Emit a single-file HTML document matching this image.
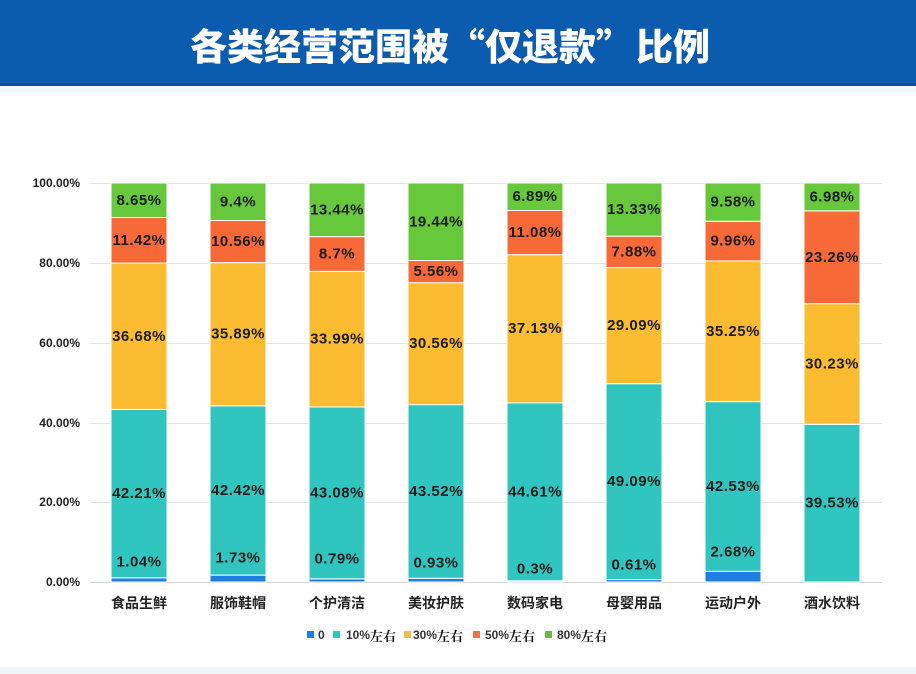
<!DOCTYPE html>
<html><head><meta charset="utf-8">
<style>
html,body{margin:0;padding:0;background:#fff;}
body{width:916px;height:674px;overflow:hidden;position:relative;font-family:"Liberation Sans","Noto Sans CJK SC",sans-serif;}
.bar{position:absolute;left:0;top:0;width:916px;height:83px;background:#0b5caf;border-bottom:3px solid #0a4f9c;}
.t{position:absolute;top:0;height:83px;line-height:88px;color:#fff;font-family:"Noto Sans CJK SC",sans-serif;font-weight:900;font-size:37px;white-space:nowrap;}
.strip{position:absolute;left:0;top:86px;width:916px;height:6px;background:#f0f6fa;}
.foot{position:absolute;left:0;top:667px;width:916px;height:7px;background:#eef6f7;}
svg{position:absolute;left:0;top:0;}
.dl{font-family:"Liberation Sans",sans-serif;font-weight:bold;font-size:15px;fill:#1c1c1c;letter-spacing:0.5px;text-anchor:middle;dominant-baseline:central;}
.yl{font-family:"Liberation Sans",sans-serif;font-weight:bold;font-size:12px;fill:#222;text-anchor:end;dominant-baseline:central;}
.cl{font-family:"Liberation Sans","Noto Sans CJK SC",sans-serif;font-weight:bold;font-size:14px;fill:#222;text-anchor:middle;dominant-baseline:central;}
.lg{font-family:"Liberation Sans",sans-serif;font-size:12px;font-weight:bold;fill:#333;dominant-baseline:central;}
.lgc{font-family:"Noto Serif CJK SC",serif;font-weight:bold;font-size:13px;fill:#111;}
</style></head>
<body>
<div class="bar"></div>
<div class="t" style="left:190px">各类经营范围被</div>
<div class="t" style="left:448px">“仅退款”</div>
<div class="t" style="left:636px">比例</div>
<div class="strip"></div>
<div class="foot"></div>
<svg width="916" height="674" viewBox="0 0 916 674">
<g stroke="#e3e3e3" stroke-width="1">
<line x1="90" y1="183.5" x2="882" y2="183.5"/>
<line x1="90" y1="263.5" x2="882" y2="263.5"/>
<line x1="90" y1="343.5" x2="882" y2="343.5"/>
<line x1="90" y1="423.5" x2="882" y2="423.5"/>
<line x1="90" y1="502.5" x2="882" y2="502.5"/>
<line x1="90" y1="582.5" x2="882" y2="582.5" stroke="#d4d4d4"/>
</g>
<text class="yl" x="80" y="183">100.00%</text>
<text class="yl" x="80" y="263">80.00%</text>
<text class="yl" x="80" y="343">60.00%</text>
<text class="yl" x="80" y="423">40.00%</text>
<text class="yl" x="80" y="502">20.00%</text>
<text class="yl" x="80" y="582">0.00%</text>

<g stroke="#fff" stroke-width="1">
<!-- Bar1 -->
<rect x="111" y="577.85" width="56" height="4.15" fill="#1d7fe2"/>
<rect x="111" y="409.43" width="56" height="168.42" fill="#30c5bf"/>
<rect x="111" y="263.08" width="56" height="146.35" fill="#fbbc31"/>
<rect x="111" y="217.51" width="56" height="45.57" fill="#f76a38"/>
<rect x="111" y="183" width="56" height="34.51" fill="#67c83b"/>
<!-- Bar2 -->
<rect x="210" y="575.10" width="56" height="6.9" fill="#1d7fe2"/>
<rect x="210" y="405.84" width="56" height="169.26" fill="#30c5bf"/>
<rect x="210" y="262.64" width="56" height="143.2" fill="#fbbc31"/>
<rect x="210" y="220.51" width="56" height="42.13" fill="#f76a38"/>
<rect x="210" y="183" width="56" height="37.51" fill="#67c83b"/>
<!-- Bar3 -->
<rect x="309" y="578.85" width="56" height="3.15" fill="#1d7fe2"/>
<rect x="309" y="406.96" width="56" height="171.89" fill="#30c5bf"/>
<rect x="309" y="271.34" width="56" height="135.62" fill="#fbbc31"/>
<rect x="309" y="236.62" width="56" height="34.72" fill="#f76a38"/>
<rect x="309" y="183" width="56" height="53.62" fill="#67c83b"/>
<!-- Bar4 -->
<rect x="408" y="578.29" width="56" height="3.71" fill="#1d7fe2"/>
<rect x="408" y="404.64" width="56" height="173.65" fill="#30c5bf"/>
<rect x="408" y="282.71" width="56" height="121.93" fill="#fbbc31"/>
<rect x="408" y="260.53" width="56" height="22.18" fill="#f76a38"/>
<rect x="408" y="183" width="56" height="77.53" fill="#67c83b"/>
<!-- Bar5 -->
<rect x="507" y="580.80" width="56" height="1.2" fill="#1d7fe2"/>
<rect x="507" y="402.81" width="56" height="177.99" fill="#30c5bf"/>
<rect x="507" y="254.66" width="56" height="148.15" fill="#fbbc31"/>
<rect x="507" y="210.45" width="56" height="44.21" fill="#f76a38"/>
<rect x="507" y="183" width="56" height="27.45" fill="#67c83b"/>
<!-- Bar6 -->
<rect x="606" y="579.57" width="56" height="2.43" fill="#1d7fe2"/>
<rect x="606" y="383.70" width="56" height="195.87" fill="#30c5bf"/>
<rect x="606" y="267.63" width="56" height="116.07" fill="#fbbc31"/>
<rect x="606" y="236.19" width="56" height="31.44" fill="#f76a38"/>
<rect x="606" y="183" width="56" height="53.19" fill="#67c83b"/>
<!-- Bar7 -->
<rect x="705" y="571.31" width="56" height="10.69" fill="#1d7fe2"/>
<rect x="705" y="401.61" width="56" height="169.7" fill="#30c5bf"/>
<rect x="705" y="260.96" width="56" height="140.65" fill="#fbbc31"/>
<rect x="705" y="221.22" width="56" height="39.74" fill="#f76a38"/>
<rect x="705" y="183" width="56" height="38.22" fill="#67c83b"/>
<!-- Bar8 -->
<rect x="804" y="424.28" width="56" height="157.72" fill="#30c5bf"/>
<rect x="804" y="303.66" width="56" height="120.62" fill="#fbbc31"/>
<rect x="804" y="210.85" width="56" height="92.81" fill="#f76a38"/>
<rect x="804" y="183" width="56" height="27.85" fill="#67c83b"/>
</g>

<!-- data labels -->
<text class="dl" x="139" y="562">1.04%</text>
<text class="dl" x="139" y="493.6">42.21%</text>
<text class="dl" x="139" y="336.3">36.68%</text>
<text class="dl" x="139" y="240.3">11.42%</text>
<text class="dl" x="139" y="200.3">8.65%</text>

<text class="dl" x="238" y="558">1.73%</text>
<text class="dl" x="238" y="490.5">42.42%</text>
<text class="dl" x="238" y="334.2">35.89%</text>
<text class="dl" x="238" y="241.6">10.56%</text>
<text class="dl" x="238" y="201.8">9.4%</text>

<text class="dl" x="337" y="559">0.79%</text>
<text class="dl" x="337" y="492.9">43.08%</text>
<text class="dl" x="337" y="339.2">33.99%</text>
<text class="dl" x="337" y="254">8.7%</text>
<text class="dl" x="337" y="209.8">13.44%</text>

<text class="dl" x="436" y="563">0.93%</text>
<text class="dl" x="436" y="491.5">43.52%</text>
<text class="dl" x="436" y="343.7">30.56%</text>
<text class="dl" x="436" y="271.6">5.56%</text>
<text class="dl" x="436" y="221.8">19.44%</text>

<text class="dl" x="535" y="569">0.3%</text>
<text class="dl" x="535" y="491.8">44.61%</text>
<text class="dl" x="535" y="328.7">37.13%</text>
<text class="dl" x="535" y="232.6">11.08%</text>
<text class="dl" x="535" y="196.7">6.89%</text>

<text class="dl" x="634" y="565">0.61%</text>
<text class="dl" x="634" y="481.6">49.09%</text>
<text class="dl" x="634" y="325.7">29.09%</text>
<text class="dl" x="634" y="251.9">7.88%</text>
<text class="dl" x="634" y="209.6">13.33%</text>

<text class="dl" x="733" y="552">2.68%</text>
<text class="dl" x="733" y="486.5">42.53%</text>
<text class="dl" x="733" y="331.3">35.25%</text>
<text class="dl" x="733" y="241.1">9.96%</text>
<text class="dl" x="733" y="202.1">9.58%</text>

<text class="dl" x="832" y="503.1">39.53%</text>
<text class="dl" x="832" y="364">30.23%</text>
<text class="dl" x="832" y="257.3">23.26%</text>
<text class="dl" x="832" y="196.9">6.98%</text>

<!-- categories -->
<text class="cl" x="139" y="603">食品生鲜</text>
<text class="cl" x="238" y="603">服饰鞋帽</text>
<text class="cl" x="337" y="603">个护清洁</text>
<text class="cl" x="436" y="603">美妆护肤</text>
<text class="cl" x="535" y="603">数码家电</text>
<text class="cl" x="634" y="603">母婴用品</text>
<text class="cl" x="733" y="603">运动户外</text>
<text class="cl" x="832" y="603">酒水饮料</text>

<!-- legend -->
<rect x="307" y="631" width="7" height="7" fill="#1d7fe2"/>
<text class="lg" x="318" y="635">0</text>
<rect x="333" y="631" width="7" height="7" fill="#30c5bf"/>
<text class="lg" x="346" y="635">10%<tspan class="lgc">左右</tspan></text>
<rect x="404" y="631" width="7" height="7" fill="#e9c04a"/>
<text class="lg" x="413" y="635">30%<tspan class="lgc">左右</tspan></text>
<rect x="473" y="631" width="7" height="7" fill="#e6784a"/>
<text class="lg" x="485" y="635">50%<tspan class="lgc">左右</tspan></text>
<rect x="545" y="631" width="7" height="7" fill="#6ab84a"/>
<text class="lg" x="557" y="635">80%<tspan class="lgc">左右</tspan></text>
</svg>
</body></html>
